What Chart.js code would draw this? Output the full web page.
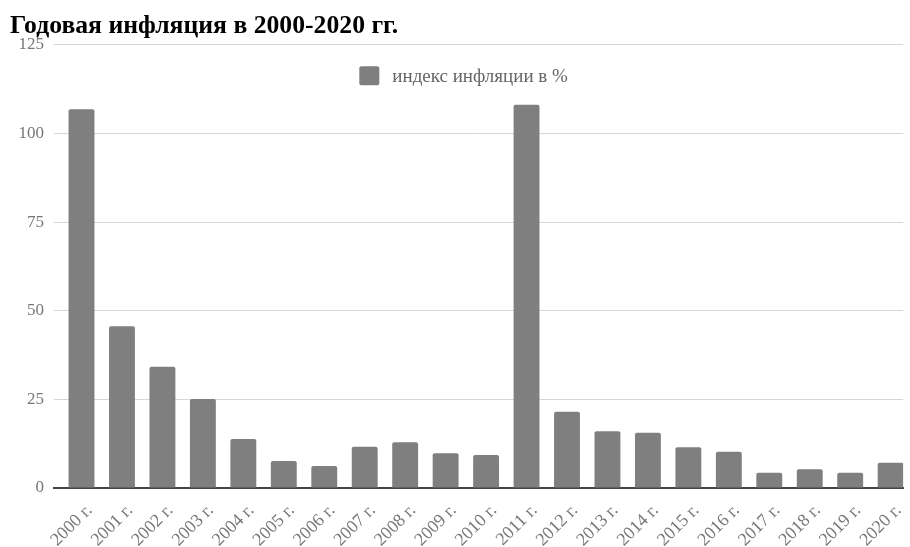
<!DOCTYPE html>
<html>
<head>
<meta charset="utf-8">
<script src="https://cdn.jsdelivr.net/npm/chart.js@4"></script>
<style>
  html, body { margin: 0; padding: 0; background: #fff; }
  #wrap { width: 910px; height: 547px; }
</style>
</head>
<body>
<div id="wrap"><canvas id="inflChart" width="910" height="547"></canvas></div>
<script>
// === Data ===
const YEARS = [
  "2000 г.", "2001 г.", "2002 г.", "2003 г.", "2004 г.", "2005 г.", "2006 г.",
  "2007 г.", "2008 г.", "2009 г.", "2010 г.", "2011 г.", "2012 г.", "2013 г.",
  "2014 г.", "2015 г.", "2016 г.", "2017 г.", "2018 г.", "2019 г.", "2020 г."
];
const INFLATION = [
  106.8, 45.6, 34.2, 25.1, 13.8, 7.6, 6.2, 11.6, 12.9, 9.8, 9.3,
  108.1, 21.5, 16.0, 15.6, 11.5, 10.2, 4.3, 5.3, 4.3, 7.1
];
const Y_TICKS = [0, 25, 50, 75, 100, 125];
const SERIES_NAME = "индекс инфляции в %";

const SERIF = "'Liberation Serif', 'Times New Roman', serif";
const GREY = "#7f7f7f";

// legend sits inside the plot, under the top gridline
const insideLegend = {
  id: "insideLegend",
  afterDraw(chart) {
    const { ctx, chartArea } = chart;
    ctx.save();
    ctx.font = "19px " + SERIF;
    const tw = ctx.measureText(SERIES_NAME).width;
    const total = 20 + 13 + tw;
    const x0 = (chartArea.left + chartArea.right) / 2 - 15 - total / 2;
    const yMid = chartArea.top + 31;
    ctx.fillStyle = GREY;
    ctx.beginPath();
    ctx.roundRect(x0, yMid - 9.5, 20, 19, 2);
    ctx.fill();
    ctx.fillStyle = "#666";
    ctx.textBaseline = "middle";
    ctx.fillText(SERIES_NAME, x0 + 33, yMid + 1);
    ctx.restore();
  }
};

const ctx = document.getElementById("inflChart").getContext("2d");

new Chart(ctx, {
  type: "bar",
  data: {
    datasets: [{
      label: SERIES_NAME,
      data: INFLATION.map((v, i) => ({ x: i, y: v })),
      backgroundColor: GREY,
      borderRadius: 2,
      borderSkipped: "bottom",
      categoryPercentage: 0.64,
      barPercentage: 1
    }]
  },
  options: {
    responsive: false,
    animation: false,
    layout: { padding: { left: 10, right: 5, top: 0, bottom: 0 } },
    plugins: {
      title: {
        display: true,
        text: "Годовая инфляция в 2000-2020 гг.",
        align: "start",
        color: "#000",
        font: { family: SERIF, size: 25.7, weight: "bold" },
        padding: { top: 11, bottom: 3 }
      },
      legend: { display: false },
      tooltip: { enabled: false }
    },
    scales: {
      x: {
        type: "linear",
        offset: false,
        min: -0.68,
        max: 20.31,
        afterBuildTicks: (axis) => { axis.ticks = YEARS.map((_, i) => ({ value: i })); },
        grid: { display: false },
        border: { color: "#444", width: 2 },
        ticks: {
          color: "#777",
          font: { family: SERIF, size: 18 },
          maxRotation: 45,
          minRotation: 45,
          autoSkip: false,
          padding: 4,
          labelOffset: 8,
          callback: (v) => YEARS[v]
        },
        afterFit: (axis) => { axis.height = 59; }
      },
      y: {
        min: 0,
        max: 125,
        afterBuildTicks: (axis) => { axis.ticks = Y_TICKS.map(v => ({ value: v })); },
        grid: { color: "#d6d6d6", lineWidth: 1, drawTicks: false },
        border: { display: false },
        ticks: {
          color: "#777",
          font: { family: SERIF, size: 17 },
          padding: 10
        },
        afterFit: (axis) => { axis.width = 44; }
      }
    }
  },
  plugins: [insideLegend]
});
</script>
</body>
</html>
